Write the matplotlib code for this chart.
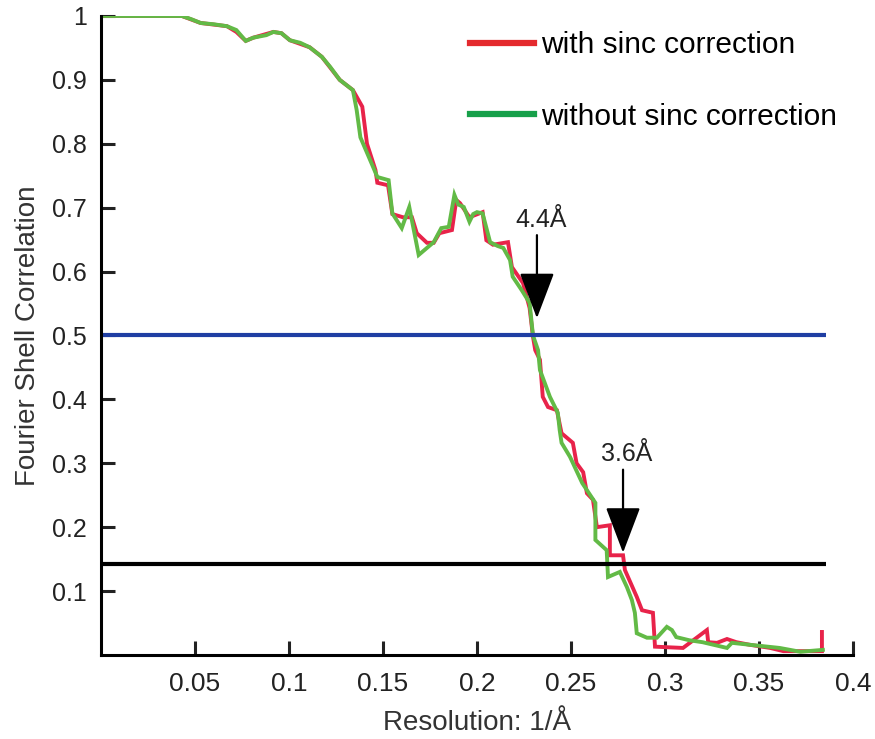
import matplotlib
matplotlib.use("Agg")
import matplotlib.pyplot as plt
from matplotlib.lines import Line2D

plt.rcParams['font.family'] = ['Liberation Sans', 'DejaVu Sans']

# FSC curves (x = 1/A, y = FSC)
res_with = [0.000, 0.043, 0.053, 0.067, 0.072, 0.077, 0.081, 0.0917, 0.096, 0.1005,
            0.111, 0.1175, 0.127, 0.134, 0.139, 0.1415, 0.146, 0.147, 0.1527, 0.155,
            0.1606, 0.1654, 0.168, 0.1734, 0.177, 0.180, 0.1867, 0.189, 0.191, 0.196,
            0.203, 0.205, 0.2085, 0.2165, 0.2186, 0.2245, 0.228, 0.2298, 0.231, 0.2335,
            0.235, 0.2378, 0.2425, 0.245, 0.251, 0.253, 0.2565, 0.2585, 0.2617, 0.2638,
            0.2707, 0.2707, 0.2777, 0.2787, 0.285, 0.2878, 0.2936, 0.2947, 0.3096, 0.3223,
            0.323, 0.3277, 0.333, 0.338, 0.345, 0.356, 0.363, 0.3835, 0.3835]
fsc_with = [1.000, 1.000, 0.989, 0.984, 0.975, 0.961, 0.966, 0.975, 0.973, 0.962,
            0.951, 0.936, 0.900, 0.884, 0.858, 0.800, 0.759, 0.739, 0.735, 0.690,
            0.685, 0.685, 0.660, 0.645, 0.645, 0.660, 0.665, 0.712, 0.707, 0.685,
            0.693, 0.649, 0.642, 0.646, 0.607, 0.582, 0.543, 0.498, 0.477, 0.462,
            0.404, 0.388, 0.383, 0.347, 0.332, 0.300, 0.286, 0.253, 0.243, 0.200,
            0.203, 0.156, 0.156, 0.133, 0.091, 0.070, 0.066, 0.013, 0.011, 0.039,
            0.020, 0.019, 0.025, 0.020, 0.016, 0.011, 0.006, 0.006, 0.036]

res_without = [0.000, 0.043, 0.048, 0.053, 0.060, 0.067, 0.072, 0.077, 0.081, 0.088,
               0.0917, 0.096, 0.1005, 0.106, 0.111, 0.1175, 0.122, 0.127, 0.134, 0.136,
               0.138, 0.1447, 0.147, 0.153, 0.155, 0.160, 0.164, 0.169, 0.173, 0.177,
               0.181, 0.185, 0.188, 0.190, 0.193, 0.196, 0.198, 0.200, 0.203, 0.207,
               0.211, 0.214, 0.2176, 0.219, 0.224, 0.228, 0.2298, 0.2325, 0.2335, 0.2388,
               0.243, 0.244, 0.245, 0.2495, 0.256, 0.263, 0.263, 0.269, 0.2697, 0.276,
               0.2798, 0.2824, 0.284, 0.285, 0.2904, 0.2957, 0.301, 0.3037, 0.306, 0.313,
               0.320, 0.333, 0.3356, 0.345, 0.361, 0.372, 0.384]
fsc_without = [1.000, 1.000, 0.995, 0.989, 0.987, 0.984, 0.978, 0.961, 0.966, 0.970,
               0.975, 0.973, 0.962, 0.958, 0.951, 0.936, 0.920, 0.900, 0.884, 0.853,
               0.810, 0.764, 0.748, 0.743, 0.691, 0.668, 0.701, 0.626, 0.636, 0.646,
               0.668, 0.670, 0.720, 0.705, 0.701, 0.678, 0.690, 0.693, 0.691, 0.646,
               0.640, 0.637, 0.618, 0.592, 0.570, 0.551, 0.500, 0.477, 0.446, 0.404,
               0.379, 0.352, 0.332, 0.310, 0.269, 0.238, 0.180, 0.164, 0.122, 0.130,
               0.106, 0.086, 0.066, 0.034, 0.027, 0.027, 0.044, 0.039, 0.028, 0.023,
               0.020, 0.011, 0.019, 0.016, 0.011, 0.005, 0.008]

thresholds = [0.5, 0.143]
threshold_colors = ['#1f3ea3', 'black']
labels = ['with sinc correction', 'without sinc correction']
marks = [('4.4Å', 0.2319, 0.527), ('3.6Å', 0.2777, 0.160)]

fig = plt.figure(figsize=(8.75, 7.39), dpi=100)
ax = fig.add_axes([0.1154, 0.1137, 0.8594, 0.8647])

ax.plot(res_with, fsc_with, color='#e8234a', lw=2.8, solid_joinstyle='miter')
ax.plot(res_without, fsc_without, color='#62ba46', lw=2.8, solid_joinstyle='miter')

for t, c in zip(thresholds, threshold_colors):
    ax.hlines(t, 0, 0.3855, color=c, lw=3)

for txt, xm, ym in marks:
    ax.annotate('', xy=(xm, ym), xytext=(xm, ym + 0.13),
                arrowprops=dict(arrowstyle='-|>,head_length=1.45,head_width=0.55',
                                mutation_scale=20, color='black', lw=1.6,
                                shrinkA=0, shrinkB=0))
    ax.text(xm + 0.002, ym + 0.135, txt, ha='center', va='bottom', fontsize=18,
            color='#222222')

ax.set_xlim(0, 0.4)
ax.set_ylim(0, 1)
ax.set_xticks([0.05, 0.1, 0.15, 0.2, 0.25, 0.3, 0.35, 0.4])
ax.set_xticklabels(['0.05', '0.1', '0.15', '0.2', '0.25', '0.3', '0.35', '0.4'])
ax.set_yticks([0.1, 0.2, 0.3, 0.4, 0.5, 0.6, 0.7, 0.8, 0.9, 1.0])
ax.set_yticklabels(['0.1', '0.2', '0.3', '0.4', '0.5', '0.6', '0.7', '0.8', '0.9', '1'])
ax.tick_params(direction='in', length=10, width=2.2, labelsize=18, colors='#222222')
ax.tick_params(axis='x', pad=12, labelsize=19)
ax.tick_params(axis='y', pad=10)

for s in ['top', 'right']:
    ax.spines[s].set_visible(False)
for s in ['left', 'bottom']:
    ax.spines[s].set_linewidth(2.2)

ax.set_xlabel('Resolution: 1/Å', fontsize=20, color='#333333', labelpad=10)
ax.set_ylabel('Fourier Shell Correlation', fontsize=20, color='#333333', labelpad=8)

handles = [Line2D([], [], color='#e42a2e', lw=4.5), Line2D([], [], color='#17a04a', lw=4.5)]
ax.legend(handles, labels, loc='upper left', bbox_to_anchor=(0.455, 1.018), frameon=False,
          fontsize=21.5, handlelength=2.15, handletextpad=0.22, labelspacing=1.45)

fig.savefig('out.png', dpi=100)
